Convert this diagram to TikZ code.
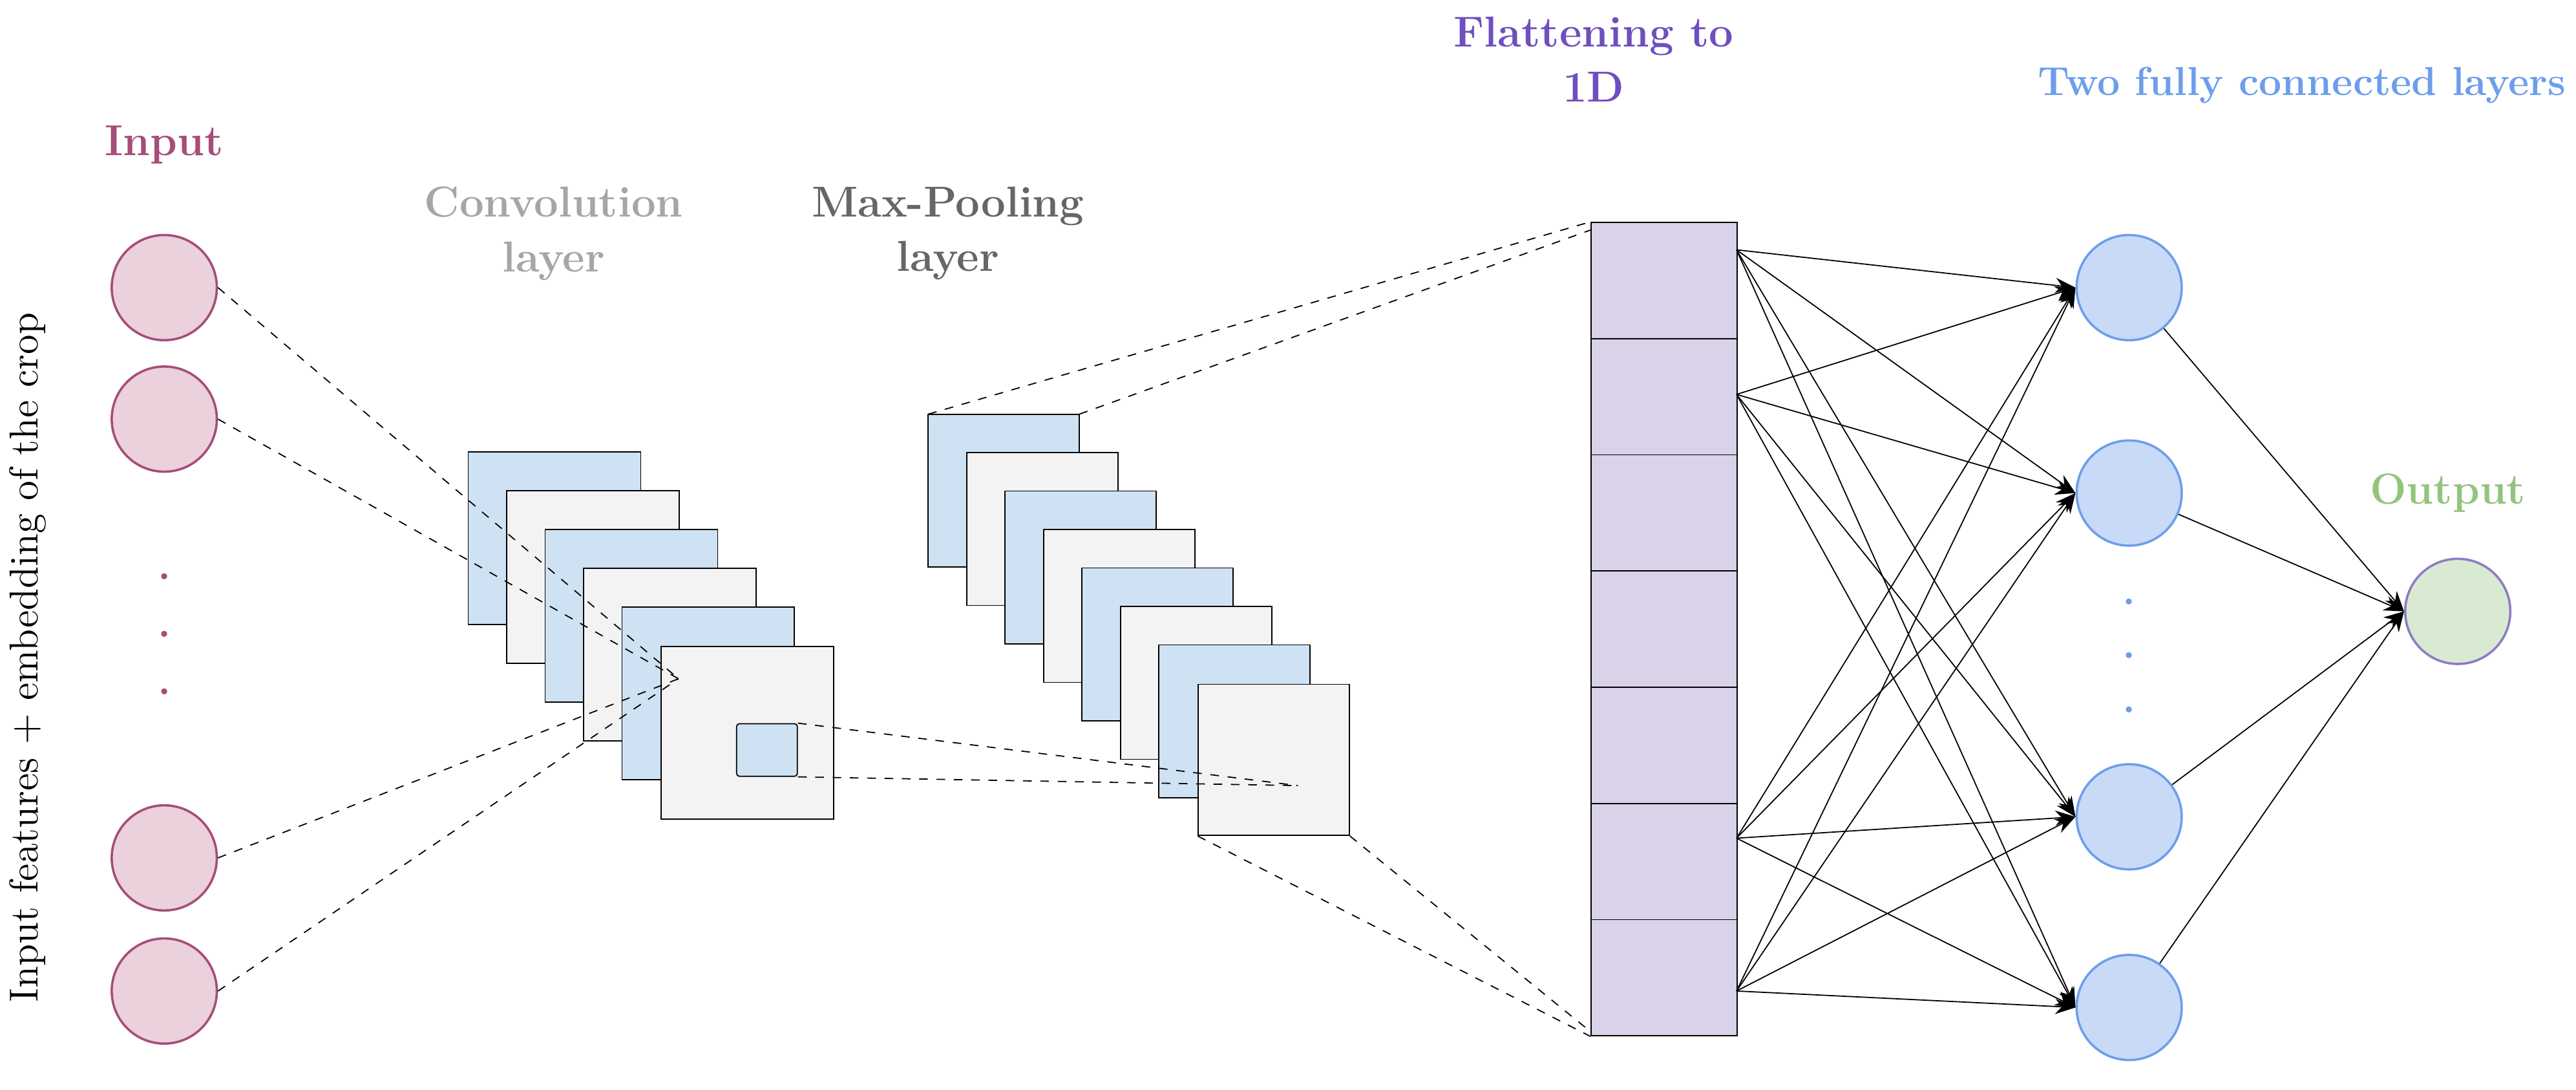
\documentclass[tikz,border=0pt]{standalone}
\usetikzlibrary{arrows.meta}
\definecolor{inc}{HTML}{A64D79}
\definecolor{infill}{HTML}{EAD1DC}
\definecolor{fcc}{HTML}{6D9EEB}
\definecolor{fcfill}{HTML}{C9DAF8}
\definecolor{sqb}{HTML}{CFE2F3}
\definecolor{sqg}{HTML}{F3F3F3}
\definecolor{flat}{HTML}{D9D2E9}
\definecolor{flatc}{HTML}{6F4FBF}
\definecolor{outc}{HTML}{93C47D}
\definecolor{outfill}{HTML}{D9EAD3}
\definecolor{outs}{HTML}{8E7CC3}
\begin{document}
\begin{tikzpicture}[x=0.02cm,y=-0.02cm,
  inn/.style={circle,draw=inc,fill=infill,thick,minimum size=1.28cm,inner sep=0},
  fcn/.style={circle,draw=fcc,fill=fcfill,thick,minimum size=1.28cm,inner sep=0},
  lab/.style={font=\fontsize{15}{19}\selectfont\bfseries,align=center},
  dsh/.style={dashed,thin},
  arr/.style={-{Stealth[length=7pt]},thin},
  sq/.style={draw,thin}]
\useasboundingbox (0,0) rectangle (1568,663);
% input
\node[lab,text=inc] (tin) at (100,88) {Input};
\foreach \n/\y in {1/175,2/255,3/522,4/603} \node[inn] (i\n) at (100,\y) {};
\foreach \n/\y in {1/357,2/392,3/427} \node[text=inc,font=\Large\bfseries] (di\n) at (100,\y-6) {.};
\node[rotate=90,font=\fontsize{14}{17}\selectfont] (side) at (17,400) {Input features + embedding of the crop};
% conv
\node[lab,text=black!35] (tconv) at (337,142) {Convolution\\layer};
\foreach \k/\c in {0/sqb,1/sqg,2/sqb,3/sqg,4/sqb}
  \draw[sq,fill=\c] (285+23.4*\k,275+23.6*\k) rectangle ++(105,105);
\node[sq,fill=sqg,minimum size=2.1cm,anchor=north west,inner sep=0] (clast) at (402,393) {};
\node[sq,fill=sqb,rounded corners=1pt,minimum width=0.74cm,minimum height=0.64cm,anchor=north west,inner sep=0] (small) at (448,440) {};
\coordinate (cv) at (413,413);
\foreach \n in {1,2} \draw[dsh] (i\n.east) -- (cv);
\foreach \n in {3,4} \draw[dsh] (i\n.east) -- (cv);
% pool
\node[lab,text=black!60] (tpool) at (577,142) {Max-Pooling\\layer};
\foreach \k/\c in {0/sqb,1/sqg,2/sqb,3/sqg,4/sqb,5/sqg,6/sqb}
  \draw[sq,fill=\c] (565+23.4*\k,252+23.4*\k) rectangle ++(92,93);
\node[sq,fill=sqg,minimum size=1.84cm,anchor=north west,inner sep=0] (plast) at (729,416) {};
\coordinate (pv) at (790,478);
\draw[dsh] (small.north east) -- (pv);
\draw[dsh] (small.south east) -- (pv);
% flatten
\node[lab,text=flatc] (tflat) at (970,36) {Flattening to\\1D};
\foreach \k in {0,...,6}
  \node[draw,fill=flat,minimum width=1.78cm,minimum height=1.414cm,anchor=north west,inner sep=0] (f\k) at (968,135+70.7*\k) {};
\coordinate (pa) at (565,252); \coordinate (pb) at (657,252);
\draw[dsh] (pa) -- (f0.north west);
\draw[dsh] (pb) -- ([yshift=-0.1cm]f0.north west);
\draw[dsh] (plast.south west) -- (f6.south west);
\draw[dsh] (plast.south east) -- ([yshift=0.06cm]f6.south west);
% fc
\node[lab,text=fcc,font=\fontsize{14}{18}\selectfont\bfseries,anchor=east,inner sep=0] (tfc) at (1562,52) {Two fully connected layers};
\foreach \n/\y in {1/175,2/300,3/497,4/613} \node[fcn] (h\n) at (1296,\y) {};
\foreach \n/\y in {1/372,2/405,3/438} \node[text=fcc,font=\Large\bfseries] (dh\n) at (1296,\y-6) {.};
\node[lab,text=outc] (tout) at (1490,300) {Output};
\node[circle,draw=outs,fill=outfill,thick,minimum size=1.28cm,inner sep=0] (o) at (1496,372) {};
\foreach \n/\y in {1/152,2/240,3/510,4/603} \coordinate (s\n) at (1057,\y);
\foreach \a in {1,2,3,4} \foreach \b in {1,2,3,4} \draw[arr] (s\a) -- (h\b.west);
\foreach \b in {1,2,3,4} \draw[arr] (h\b) -- (o.west);
\end{tikzpicture}
\end{document}
